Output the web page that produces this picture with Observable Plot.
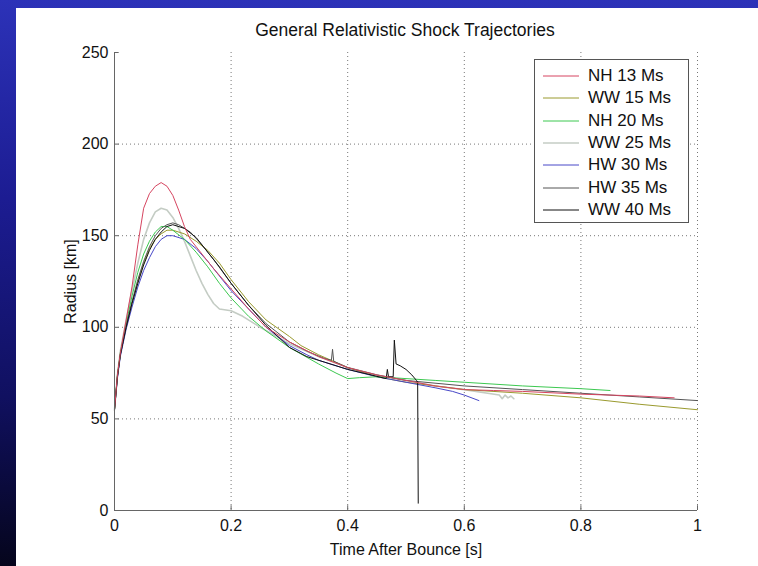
<!DOCTYPE html>
<html><head><meta charset="utf-8">
<script src="https://cdn.jsdelivr.net/npm/d3@7"></script>
<script src="https://cdn.jsdelivr.net/npm/@observablehq/plot@0.6"></script>
<style>
html,body{margin:0;padding:0;width:758px;height:566px;overflow:hidden;
  background:linear-gradient(to bottom,#2c32b8 0%,#1c1c92 35%,#101060 70%,#05051c 100%);}
#panel{position:absolute;left:16px;top:8px;width:742px;height:558px;background:#fff;
  font-family:"Liberation Sans",Arial,Helvetica,sans-serif;color:#111;}
#title{position:absolute;left:139px;width:500px;top:12px;text-align:center;font-size:17.5px;}
#legend{position:absolute;left:518px;top:51px;width:153px;height:162px;border:1px solid #555;background:#fff;}
.row{position:absolute;left:0;height:20px;font-size:17px;line-height:20px;}
.row svg{position:absolute;left:8px;top:0;}
.row span{position:absolute;left:53px;white-space:nowrap;}
</style></head>
<body>
<div id="panel">
  <div id="title">General Relativistic Shock Trajectories</div>
  <div id="chart"></div>
  <div id="legend"></div>
</div>
<script>
const seriesNames = ["NH 13 Ms","WW 15 Ms","NH 20 Ms","WW 25 Ms","HW 30 Ms","HW 35 Ms","WW 40 Ms"];
const seriesColors = ["#d64560","#9a9a2e","#3cc850","#c4ccc4","#4848c8","#555555","#111111"];
const seriesWidths = [1,1,1,1.6,1,1,1];
const xTicks = [0,0.2,0.4,0.6,0.8,1];
const yTicks = [0,50,100,150,200,250];

const NH13 = [[0,55],[0.005,74],[0.01,86],[0.02,104],[0.03,122],[0.04,145],[0.05,165],[0.06,173],[0.07,177],[0.08,179],[0.09,177],[0.1,172],[0.11,164],[0.12,155],[0.13,148],[0.15,140],[0.17,132],[0.2,121],[0.23,110],[0.26,100],[0.3,92],[0.35,84],[0.4,78],[0.45,74],[0.5,71],[0.55,68],[0.6,66],[0.65,65.5],[0.7,65],[0.8,63.5],[0.9,62.5],[0.96,61.5]];
const WW15 = [[0,55],[0.005,73],[0.01,85],[0.02,100],[0.03,113],[0.04,125],[0.05,135],[0.06,143],[0.07,148],[0.08,151],[0.09,153],[0.1,153],[0.12,151],[0.14,147],[0.16,142],[0.18,135],[0.2,126],[0.23,114],[0.26,104],[0.3,95],[0.32,90],[0.35,85],[0.4,78],[0.45,73],[0.5,70],[0.55,68],[0.6,66],[0.7,64],[0.8,61.5],[0.9,58],[1,55]];
const NH20 = [[0,55],[0.005,74],[0.01,86],[0.02,102],[0.03,117],[0.04,130],[0.05,140],[0.06,147],[0.07,152],[0.08,155],[0.09,155],[0.1,153],[0.12,148],[0.14,141],[0.16,133],[0.18,124],[0.2,116],[0.23,106],[0.26,98],[0.3,89],[0.35,80],[0.38,75],[0.4,72],[0.42,72.5],[0.45,73],[0.5,72],[0.55,71],[0.6,70],[0.7,68],[0.8,66.5],[0.85,65.5]];
const WW25 = [[0,55],[0.005,74],[0.01,87],[0.02,104],[0.03,120],[0.04,135],[0.05,148],[0.06,157],[0.07,163],[0.08,165],[0.09,164],[0.1,160],[0.11,154],[0.12,147],[0.13,139],[0.14,131],[0.15,124],[0.16,118],[0.17,113],[0.18,110],[0.2,109],[0.22,106],[0.25,100],[0.3,91],[0.35,84],[0.4,78],[0.45,74],[0.5,71],[0.55,68],[0.6,66],[0.64,64],[0.66,63],[0.665,61],[0.67,63],[0.675,61.5],[0.68,62.5],[0.685,61]];
const HW30 = [[0,55],[0.005,72],[0.01,84],[0.02,99],[0.03,111],[0.04,122],[0.05,131],[0.06,138],[0.07,144],[0.08,148],[0.09,150],[0.1,150],[0.12,148],[0.14,143],[0.16,136],[0.18,128],[0.2,120],[0.23,110],[0.26,100],[0.3,90],[0.33,85],[0.35,82],[0.4,77],[0.45,73],[0.5,70],[0.55,67],[0.58,65],[0.6,63],[0.625,60]];
const HW35 = [[0,55],[0.005,73],[0.01,85],[0.02,101],[0.03,114],[0.04,126],[0.05,136],[0.06,144],[0.07,150],[0.08,154],[0.09,156],[0.1,157],[0.11,156],[0.13,152],[0.15,145],[0.17,137],[0.2,124],[0.23,112],[0.26,102],[0.3,92],[0.33,87],[0.36,83],[0.372,82],[0.374,88],[0.376,81.5],[0.4,78],[0.45,74],[0.5,71],[0.6,68],[0.7,66],[0.8,64],[0.9,62],[1,60]];
const WW40 = [[0,55],[0.005,73],[0.01,85],[0.02,100],[0.03,113],[0.04,124],[0.05,134],[0.06,142],[0.07,148],[0.08,152],[0.09,155],[0.1,156],[0.12,154],[0.14,149],[0.16,141],[0.18,133],[0.2,124],[0.23,112],[0.26,101],[0.3,89],[0.33,84],[0.36,81],[0.4,77],[0.44,74],[0.466,72],[0.468,77],[0.47,73],[0.478,73],[0.48,93],[0.483,80],[0.49,79],[0.5,77],[0.51,74],[0.518,71],[0.52,70],[0.521,4]];

const seriesData = [NH13, WW15, NH20, WW25, HW30, HW35, WW40];
const drawOrder = [3,1,4,2,5,6,0];

const chart = Plot.plot({
  width: 742, height: 558,
  marginLeft: 98, marginRight: 61, marginTop: 44, marginBottom: 56,
  style: {fontFamily: '"Liberation Sans", Arial, Helvetica, sans-serif', fontSize: "16px", color: "#111", background: "transparent"},
  x: {domain: [0, 1]},
  y: {domain: [0, 250]},
  marks: [
    Plot.gridX(xTicks.slice(1), {stroke: "#777", strokeOpacity: 1, strokeDasharray: "1,3"}),
    Plot.gridY(yTicks.slice(1, 5), {stroke: "#777", strokeOpacity: 1, strokeDasharray: "1,3"}),
    ...drawOrder.map(i => Plot.line(seriesData[i], {x: d => d[0], y: d => d[1], stroke: seriesColors[i], strokeWidth: seriesWidths[i]})),
    Plot.ruleX([0], {stroke: "#666"}),
    Plot.ruleY([0], {stroke: "#666"}),
    Plot.ruleX(xTicks, {x: d => d, y1: 0, y2: 2.6, stroke: "#666"}),
    Plot.ruleY(yTicks, {y: d => d, x1: 0, x2: 0.008, stroke: "#666"}),
    Plot.axisX(xTicks, {tickSize: 0, tickPadding: 9, tickFormat: d => String(d), fontSize: 16, label: "Time After Bounce [s]", labelAnchor: "center", labelOffset: 44, labelArrow: "none"}),
    Plot.axisY(yTicks, {tickSize: 0, tickPadding: 6, tickFormat: d => String(d), fontSize: 16, label: "Radius [km]", labelAnchor: "center", labelOffset: 50, labelArrow: "none"})
  ]
});
document.getElementById("chart").appendChild(chart);

const legend = document.getElementById("legend");
seriesNames.forEach((name, i) => {
  const row = document.createElement("div");
  row.className = "row";
  row.style.top = (6 + i * 22.3) + "px";
  row.innerHTML = `<svg width="38" height="20"><line x1="0" x2="36" y1="10" y2="10" stroke="${seriesColors[i]}" stroke-width="${seriesWidths[i]}"/></svg><span>${name}</span>`;
  legend.appendChild(row);
});
</script>
</body></html>
